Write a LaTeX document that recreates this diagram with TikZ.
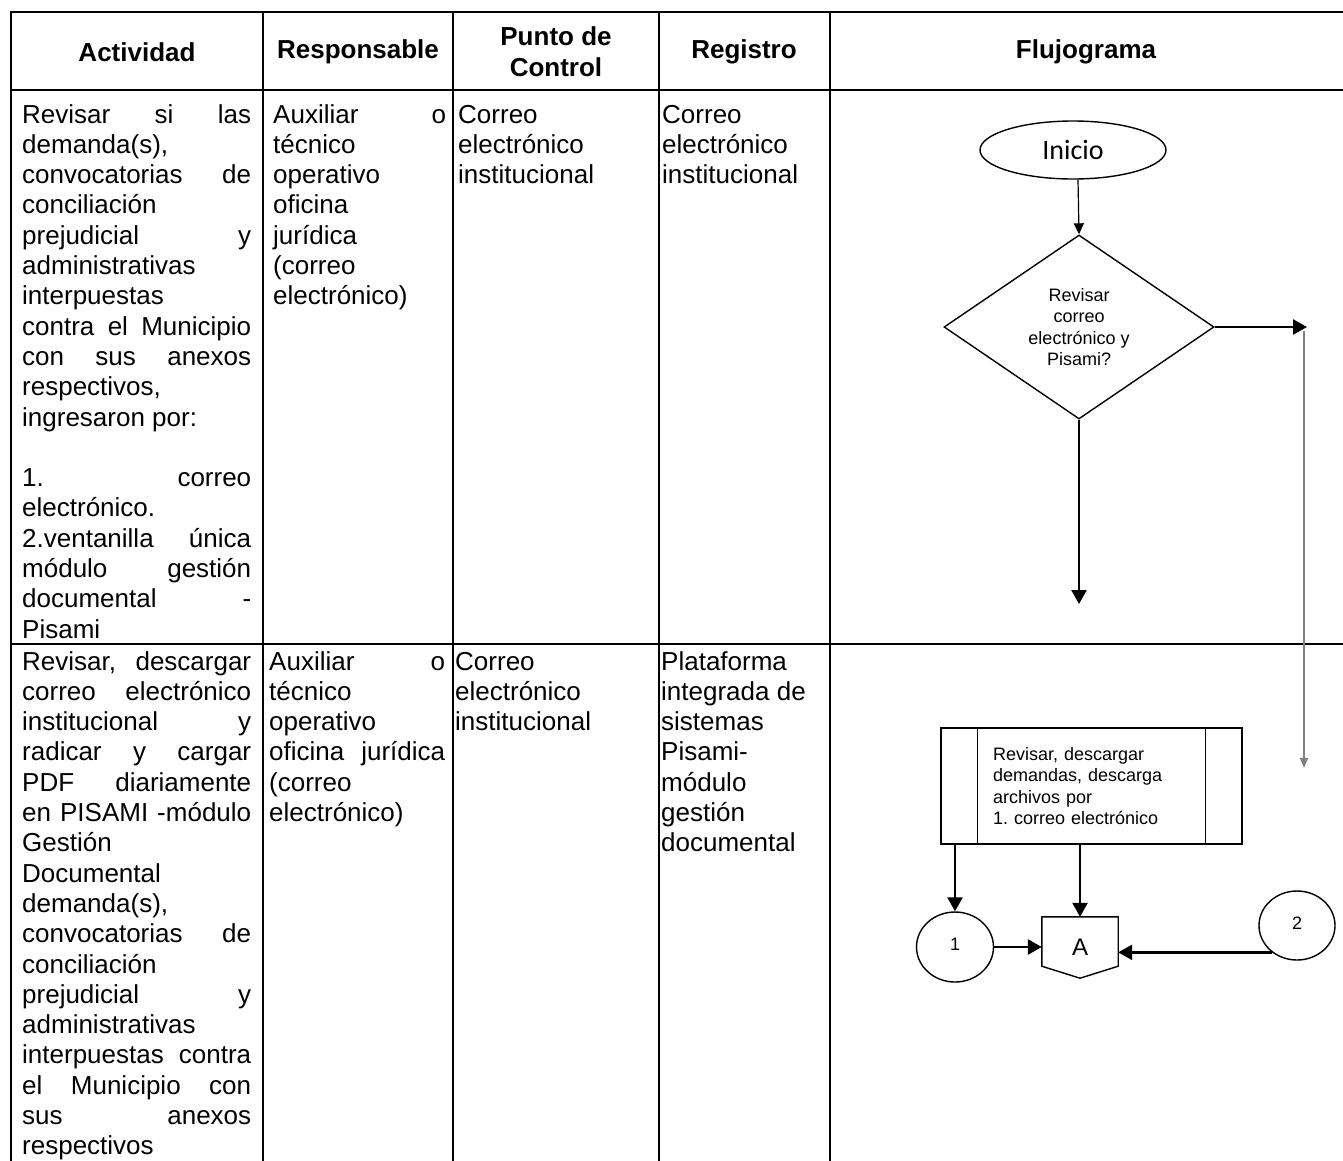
\documentclass[tikz,border=0pt]{standalone}
\usepackage{fontspec}
\setmainfont{Liberation Sans}
\newfontfamily\startfont{Carlito}
\usetikzlibrary{shapes.geometric,arrows.meta,calc}
\frenchspacing

% one justified line of a table cell
\newcommand{\jl}[1]{\makebox[\linewidth][s]{#1}}
% a table cell: top-aligned paragraph of given width
\newcommand{\cellbox}[2]{\parbox[t]{#1}{\raggedright #2}}

\tikzset{
  grid/.style={line width=2pt, line cap=rect},
  hdr/.style={font=\bfseries\fontsize{26}{31}\selectfont, inner sep=0pt, align=center},
  cell/.style={font=\fontsize{26}{30.3}\selectfont, inner sep=0pt, anchor=base west},
  shapeline/.style={draw, line width=1.4pt},
  small/.style={font=\fontsize{18}{21.6}\selectfont},
  flowthick/.style={line width=2.6pt, -{Triangle[length=14pt,width=15pt]}},
  flowthin/.style={line width=1.2pt, -{Triangle[length=11pt,width=10pt]}},
  flowgray/.style={line width=1.3pt, draw=black!50, -{Triangle[length=10pt,width=8pt]}},
}

\begin{document}
\begin{tikzpicture}[x=1pt,y=-1pt]
\useasboundingbox (0,0) rectangle (1343,1160);
\clip (0,0) rectangle (1343,1160);

% ---- table grid ----
\draw[grid] (1360,12) -- (11,12) -- (11,1180);
\draw[grid] (11,90) -- (1360,90);
\draw[grid] (11,644) -- (1360,644);
\foreach \cx in {263,453,659,830}
  \draw[grid] (\cx,12) -- (\cx,1180);

% ---- header ----
\node[hdr] (hAct)  at (137,52)  {Actividad};
\node[hdr] (hResp) at (358,52)  {Responsable};
\node[hdr] (hCtrl) at (556,52)  {Punto de\\Control};
\node[hdr] (hReg)  at (744,52)  {Registro};
\node[hdr] (hFlu)  at (1086,52) {Flujograma};

% ---- row 1 ----
\node[cell] (act1) at (22,123) {\cellbox{229pt}{%
\jl{Revisar si las}\\
demanda(s),\\
\jl{convocatorias de}\\
conciliación\\
\jl{prejudicial y}\\
administrativas\\
interpuestas\\
\jl{contra el Municipio}\\
\jl{con sus anexos}\\
respectivos,\\
ingresaron por:\\
\mbox{}\\
\jl{1. correo}\\
electrónico.\\
\jl{2.ventanilla única}\\
\jl{módulo gestión}\\
\jl{documental -}\\
Pisami}};
\node[cell] (resp1) at (273,123) {\cellbox{173pt}{%
\jl{Auxiliar o}\\
técnico\\
operativo\\
oficina\\
jurídica\\
(correo\\
electrónico)}};
\node[cell] (ctrl1) at (458,123) {\cellbox{195pt}{Correo\\electrónico\\institucional}};
\node[cell] (reg1)  at (662,123) {\cellbox{165pt}{Correo\\electrónico\\institucional}};

% ---- row 2 ----
\node[cell] (act2) at (22,670) {\cellbox{229pt}{%
\jl{Revisar, descargar}\\
\jl{correo electrónico}\\
\jl{institucional y}\\
\jl{radicar y cargar}\\
\jl{PDF diariamente}\\
\jl{en PISAMI -módulo}\\
Gestión\\
Documental\\
demanda(s),\\
\jl{convocatorias de}\\
conciliación\\
\jl{prejudicial y}\\
administrativas\\
\jl{interpuestas contra}\\
\jl{el Municipio con}\\
\jl{sus anexos}\\
respectivos}};
\node[cell] (resp2) at (269,670) {\cellbox{176pt}{%
\jl{Auxiliar o}\\
técnico\\
operativo\\
\jl{oficina jurídica}\\
(correo\\
electrónico)}};
\node[cell] (ctrl2) at (455,670) {\cellbox{198pt}{Correo\\electrónico\\institucional}};
\node[cell] (reg2)  at (661,670) {\cellbox{166pt}{Plataforma\\integrada de\\sistemas\\Pisami-\\módulo\\gestión\\documental}};

% ---- flowchart ----
\node[shapeline, ellipse, minimum width=186pt, minimum height=58pt, inner sep=0pt,
      font=\startfont\fontsize{28}{30}\selectfont] (ini) at (1073,150) {Inicio};

\node[shapeline, diamond, aspect=1.467, minimum width=270pt, minimum height=184pt,
      inner sep=0pt, align=center, small] (dec) at (1079,327)
      {Revisar\\correo\\electrónico y\\Pisami?};

\coordinate (dnEnd) at (1079,604);
\coordinate (rtEnd) at (1307,327);
\coordinate (gTop)  at (1304,331);
\coordinate (gEnd)  at (1304,768);

\draw[flowthin]  ($(ini.south)+(5,0)$) -- (dec.north);
\draw[flowthick] (dec.south) -- (dnEnd);
\draw[flowthick] (dec.east) -- (rtEnd);
\draw[flowgray]  (gTop) -- (gEnd);

% predefined process box
\node[shapeline, rectangle, minimum width=301pt, minimum height=116pt,
      text width=197pt, align=left, inner sep=0pt, small] (proc) at (1091.5,786)
      {Revisar, descargar\\demandas, descarga\\archivos por\\1. correo electrónico};
\draw[line width=1.4pt] ($(proc.north west)+(37,0)$) -- ($(proc.south west)+(37,0)$);
\draw[line width=1.4pt] ($(proc.north east)+(-37,0)$) -- ($(proc.south east)+(-37,0)$);

% connectors
\node[shapeline, ellipse, minimum width=77pt, minimum height=70pt, inner sep=0pt,
      small] (c1) at (955,947) {\raisebox{5pt}{1}};
\node[shapeline, ellipse, minimum width=76pt, minimum height=69pt, inner sep=0pt,
      small] (c2) at (1297,925.5) {\raisebox{5pt}{2}};

% off-page connector A
\node[rectangle, minimum width=76pt, minimum height=61pt, inner sep=0pt,
      font=\fontsize{24}{26}\selectfont] (offA) at (1080,947.5) {A};
\draw[line width=1.4pt] (offA.north west) -- (offA.north east)
  -- ($(offA.south east)+(0,-12)$) -- (offA.south)
  -- ($(offA.south west)+(0,-12)$) -- cycle;

\draw[flowthick] (proc.south -| c1.north) -- (c1.north);
\draw[flowthick] (proc.south -| offA.north) -- (offA.north);
\draw[flowthick] (c1.east) -- (c1.east -| offA.west);
\draw[flowthick] (c2.227) -- (c2.227 -| offA.east);

\end{tikzpicture}
\end{document}
